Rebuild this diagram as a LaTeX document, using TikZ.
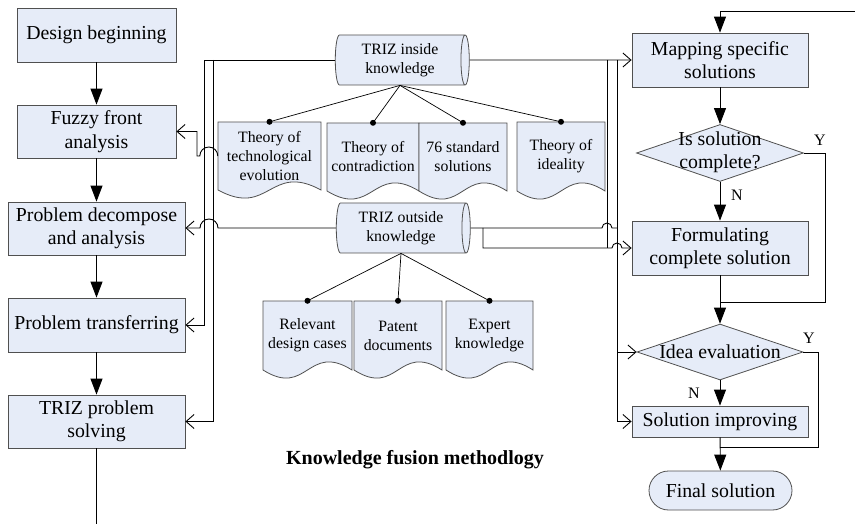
\documentclass[tikz,border=0pt]{standalone}
\usepackage{fontspec}
\setmainfont{Liberation Serif}
\usetikzlibrary{shapes.geometric,arrows.meta}

\definecolor{boxfill}{RGB}{230,236,248}
\definecolor{boxline}{RGB}{80,80,80}

% document-shaped knowledge item: name, x-left, x-right, y-top, y-bottom, text
\newcommand\kdoc[6]{%
  \path[docbody] (#2,#4) -- (#3,#4) -- (#3,#5)
    .. controls ({(#2+#3)/2},#5-28) and ({(#2+#3)/2},#5+28) .. (#2,#5) -- cycle;
  \node[doctext, minimum width={#3-#2}, minimum height={#5-#4}] (#1)
    at ({(#2+#3)/2},{(#4+#5)/2}) {#6};
}

\begin{document}
\begin{tikzpicture}[x=1pt,y=-1pt,
  box/.style={rectangle, draw=boxline, fill=boxfill, line width=0.8pt,
    align=center, inner sep=1pt, font=\fontsize{19.8}{23.5}\selectfont},
  boxtext/.style={align=center, inner sep=0pt, font=\fontsize{19.8}{23.5}\selectfont},
  dec/.style={diamond, draw=boxline, fill=boxfill, line width=0.8pt, inner sep=0pt},
  % the cylinder axis is horizontal: minimum height runs along it
  store/.style={cylinder, aspect=0.25, draw=boxline, fill=boxfill, line width=0.8pt,
    align=center, inner sep=0pt, minimum width=50, minimum height=134,
    font=\fontsize{15.8}{19}\selectfont},
  docbody/.style={draw=boxline, fill=boxfill, line width=0.8pt},
  doctext/.style={align=center, inner sep=0pt, font=\fontsize{15.8}{19}\selectfont},
  conn/.style={line width=0.9pt, draw=black},
  flow/.style={conn, -{Triangle[length=16pt,width=12pt]}},
  feed/.style={conn, -{Straight Barb[length=8pt,width=14pt]}},
  link/.style={line width=0.7pt, draw=black},
  lbl/.style={inner sep=0pt, font=\fontsize{16}{16}\selectfont}]

\useasboundingbox (0,0) rectangle (855,524);

% ---- design process (left column)
\node[box, minimum width=159, minimum height=54] (design) at (96.5,35) {Design beginning};
\node[box, minimum width=159, minimum height=53] (fuzzy) at (96.5,131.5) {Fuzzy front\\analysis};
\node[box, minimum width=177, minimum height=53] (decomp) at (96.5,228.5) {Problem decompose\\and analysis};
\node[box, minimum width=177, minimum height=54] (transf) at (96.5,325) {Problem transferring};
\node[box, minimum width=177, minimum height=53] (solve) at (96.5,421.5) {TRIZ problem\\solving};

% ---- knowledge stores
\node[store] (inside) at (400,60) {TRIZ inside\\knowledge};
\node[store] (outside) at (401,228) {TRIZ outside\\knowledge};

\kdoc{tte}{218}{321}{122}{190}{Theory of\\technological\\evolution}
\kdoc{toc}{327}{419}{123}{191}{Theory of\\contradiction}
\kdoc{std}{419}{507}{123}{191}{76 standard\\solutions}
\kdoc{toi}{517}{605}{122}{191}{Theory of\\ideality}
\kdoc{rdc}{263}{352}{301}{370}{Relevant\\design cases}
\kdoc{pat}{354}{442}{301}{370}{Patent\\documents}
\kdoc{exk}{446}{533}{301}{370}{Expert\\knowledge}

\foreach \d in {tte,toc,std,toi} {
  \draw[link] (inside.south) -- (\d.north);
  \fill (\d.north) circle[radius=3];
}
\foreach \d in {rdc,pat,exk} {
  \draw[link] (outside.south) -- (\d.north);
  \fill (\d.north) circle[radius=3];
}

\node[font=\bfseries\fontsize{20}{24}\selectfont] (title) at (415,460) {Knowledge fusion methodlogy};

% ---- solution process (right column)
\node[box, minimum width=176, minimum height=54] (mapping) at (720,60) {Mapping specific\\solutions};
\node[dec, minimum width=167, minimum height=57] (complete) at (720,153) {};
\node[boxtext] (completetxt) at (720,152) {Is solution\\complete?};
\node[box, minimum width=176, minimum height=54] (formul) at (720,248) {Formulating\\complete solution};
\node[dec, minimum width=166, minimum height=56] (idea) at (720,352) {};
\node[boxtext] (ideatxt) at (720,352) {Idea evaluation};
\node[box, minimum width=176, minimum height=31] (improve) at (720,421.5) {Solution improving};
\node[box, rounded corners=19.5pt, minimum width=143, minimum height=39] (final) at (720.5,490.5) {Final solution};

\node[lbl] (y1) at (820,140) {Y};
\node[lbl] (n1) at (737,195) {N};
\node[lbl] (y2) at (809,338) {Y};
\node[lbl] (n2) at (694,393) {N};

% ---- main flow, left
\draw[flow] (design) -- (fuzzy);
\draw[flow] (fuzzy) -- (decomp);
\draw[flow] (decomp) -- (transf);
\draw[flow] (transf) -- (solve);
\coordinate (leftend) at (96.5,524);
\draw[conn] (solve) -- (leftend);

% ---- knowledge fed back to the design steps
\coordinate (busA) at (204,60);
\coordinate (busB) at (213,60);
\draw[feed] (inside.west) -- (busA) |- (transf.east);
\draw[feed] (busB) |- (solve.east);
\draw[feed] (tte.west) arc[start angle=0,end angle=-180,radius=9] -- (197,156) |- (fuzzy.east);
\draw[feed] (outside.west) -- (218,228) arc[start angle=0,end angle=-180,radius=9]
  -- (decomp.east |- outside.west);

% ---- knowledge fed to the solution steps
\coordinate (busC) at (607,60);
\coordinate (busD) at (617,60);
\draw[feed] (inside.east) -- (mapping.west);
\draw[conn] (busC) -- (607,248);
\draw[conn] (outside.east) -- (602,228) arc[start angle=180,end angle=360,radius=5] -- (617,228);
\draw[feed] (483,228) |- (612,248) arc[start angle=180,end angle=360,radius=5] -- (formul.west);
\draw[feed] (busD) |- (improve.west);
\draw[feed] (busD |- idea.west) -- (idea.west);

% ---- main flow, right
\coordinate (topin) at (855,11);
\draw[flow] (topin) -- (mapping.north |- topin) -- (mapping.north);
\draw[flow] (mapping) -- (complete);
\draw[flow] (complete) -- (formul);
\draw[flow] (formul) -- (idea);
\draw[flow] (idea) -- (improve);
\draw[flow] (improve) -- (final);
\draw[conn] (complete.east) -| (825,302) -- (720,302);
\draw[conn] (idea.east) -| (818,447) -- (720,447);

\end{tikzpicture}
\end{document}
